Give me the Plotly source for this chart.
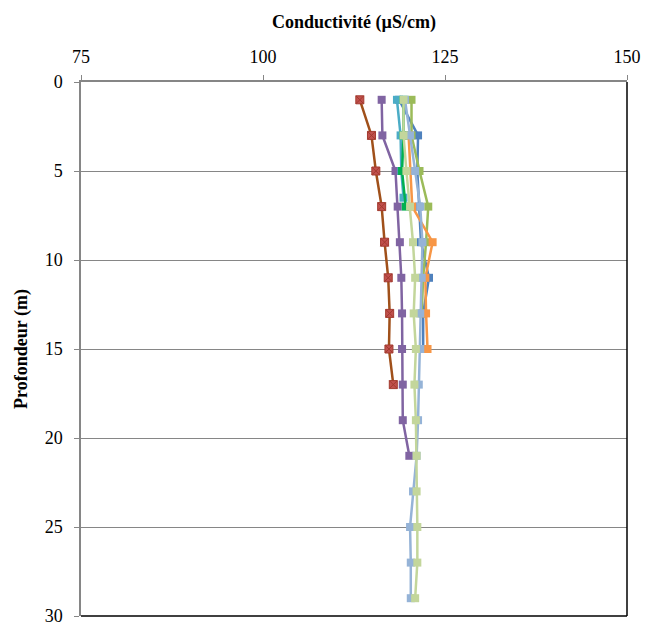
import plotly.graph_objects as go

depth_brown = [1, 3, 5, 7, 9, 11, 13, 15, 17]
cond_brown = [113.3, 114.9, 115.5, 116.3, 116.7, 117.2, 117.4, 117.3, 117.9]

depth_purple = [1, 3, 5, 7, 9, 11, 13, 15, 17, 19, 21]
cond_purple = [116.3, 116.4, 118.2, 118.5, 118.8, 119.0, 119.1, 119.1, 119.2, 119.2, 120.1]

depth_blue = [1, 3, 5, 7, 9, 11, 13, 15]
cond_blue = [118.7, 121.3, 121.2, 121.4, 121.7, 122.8, 122.0, 122.0]

depth_olive = [1, 3, 5, 7, 9, 11, 13]
cond_olive = [120.4, 120.4, 121.5, 122.7, 122.4, 122.0, 121.8]

depth_orange = [3, 5, 7, 9, 11, 13, 15]
cond_orange = [120.0, 120.2, 120.5, 123.3, 122.3, 122.4, 122.6]

depth_teal = [1, 3, 5, 6.5]
cond_teal = [118.4, 118.9, 119.0, 119.3]

depth_green = [1, 3, 5, 7]
cond_green = [119.3, 119.3, 119.1, 119.6]

depth_peri = [1, 3, 5, 7, 9, 11, 13, 15, 17, 19, 21, 23, 25, 27, 29]
cond_peri = [119.5, 120.2, 120.9, 121.6, 121.9, 121.8, 121.6, 121.6, 121.4, 121.3, 121.1, 120.6, 120.2, 120.3, 120.3]

depth_lgreen = [1, 3, 5, 7, 9, 11, 13, 15, 17, 19, 21, 23, 25, 27, 29]
cond_lgreen = [119.3, 119.3, 119.7, 120.2, 120.6, 120.9, 120.7, 121.0, 120.8, 121.0, 121.1, 121.1, 121.2, 121.2, 120.9]

x_ticks = [75, 100, 125, 150]
y_ticks = [0, 5, 10, 15, 20, 25, 30]

series = [
    (cond_blue, depth_blue, "#4F81BD", "#4F81BD", "square"),
    (cond_brown, depth_brown, "#A0501A", "#C0504D", "square-x"),
    (cond_olive, depth_olive, "#9BBB59", "#9BBB59", "square"),
    (cond_purple, depth_purple, "#8064A2", "#8064A2", "square"),
    (cond_teal, depth_teal, "#4BACC6", "#4BACC6", "square"),
    (cond_orange, depth_orange, "#F79646", "#F79646", "square"),
    (cond_green, depth_green, "#00B050", "#00B050", "square"),
    (cond_peri, depth_peri, "#95B3D7", "#95B3D7", "square"),
    (cond_lgreen, depth_lgreen, "#C3D69B", "#C3D69B", "square"),
]

fig = go.Figure()
for xs, ys, lc, mc, sym in series:
    mline = dict(color="#A33B2F", width=1) if sym == "square-x" else dict(width=0)
    fig.add_trace(go.Scatter(
        x=xs, y=ys, mode="lines+markers",
        line=dict(color=lc, width=2.5),
        marker=dict(symbol=sym, size=8, color=mc, line=mline),
        showlegend=False,
    ))

FAM = "Liberation Serif, Times New Roman, serif"
tickfont = dict(family=FAM, size=18, color="#000000")
titlefont = dict(family=FAM, size=18, color="#000000")

fig.update_layout(
    width=647, height=626,
    margin=dict(l=81, r=20, t=82, b=10, autoexpand=False),
    paper_bgcolor="white", plot_bgcolor="white",
    font=tickfont,
    xaxis=dict(
        side="top", range=[75, 150], tickvals=x_ticks,
        showgrid=False, zeroline=False, automargin=False,
        showline=True, linecolor="#868686", linewidth=1.5,
        ticks="outside", ticklen=5, tickcolor="#868686",
        tickfont=tickfont, ticklabelstandoff=5,
        title=dict(text="<b>Conductivité (µS/cm)</b>", font=titlefont, standoff=14),
    ),
    yaxis=dict(
        range=[30, 0], tickvals=y_ticks,
        showgrid=True, gridcolor="#868686", gridwidth=1,
        zeroline=False, automargin=False,
        showline=True, linecolor="#868686", linewidth=1.5,
        ticks="outside", ticklen=5, tickcolor="#868686",
        tickfont=tickfont, ticklabelstandoff=8,
        ticklabeloverflow="allow",
        title=dict(text="<b>Profondeur (m)</b>", font=titlefont, standoff=12),
    ),
    shapes=[
        dict(type="line", xref="paper", yref="paper", x0=1, x1=1, y0=0, y1=1,
             line=dict(color="#000000", width=1.5)),
        dict(type="line", xref="paper", yref="paper", x0=0, x1=1, y0=0, y1=0,
             line=dict(color="#000000", width=1.5)),
    ],
)

fig.write_html("out.html")
